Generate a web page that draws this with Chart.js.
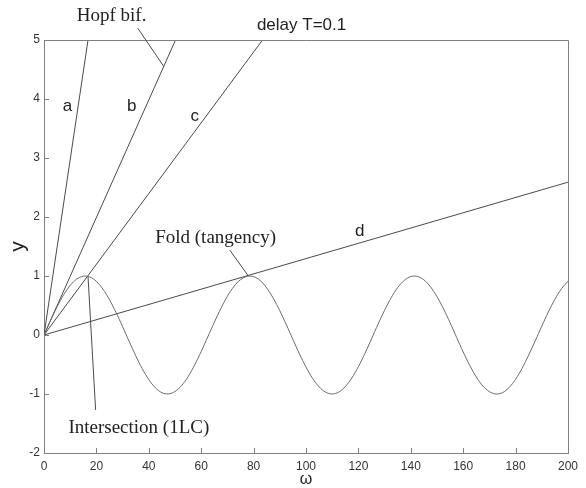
<!DOCTYPE html>
<html>
<head>
<meta charset="utf-8">
<script src="https://cdn.jsdelivr.net/npm/chart.js@4.4.1/dist/chart.umd.min.js"></script>
<style>
html,body{margin:0;padding:0;background:#fff;}
#wrap{width:586px;height:488px;}
</style>
</head>
<body>
<div id="wrap"><canvas id="c" width="586" height="488"></canvas></div>
<script>
// ---- data ----
const omegaValues = [0,2.5,5,7.5,10,12.5,15,17.5,20,22.5,25,27.5,30,32.5,35,37.5,40,42.5,45,47.5,50,52.5,55,57.5,60,62.5,65,67.5,70,72.5,75,77.5,80,82.5,85,87.5,90,92.5,95,97.5,100,102.5,105,107.5,110,112.5,115,117.5,120,122.5,125,127.5,130,132.5,135,137.5,140,142.5,145,147.5,150,152.5,155,157.5,160,162.5,165,167.5,170,172.5,175,177.5,180,182.5,185,187.5,190,192.5,195,197.5,200];
const curveValues = [0,0.247,0.479,0.682,0.841,0.949,0.997,0.984,0.909,0.778,0.598,0.382,0.141,-0.108,-0.351,-0.572,-0.757,-0.895,-0.978,-0.999,-0.959,-0.859,-0.706,-0.508,-0.279,-0.033,0.215,0.450,0.657,0.824,0.938,0.994,0.989,0.925,0.798,0.624,0.412,0.174,-0.075,-0.320,-0.544,-0.735,-0.880,-0.970,-1.000,-0.968,-0.875,-0.729,-0.537,-0.311,-0.066,0.183,0.420,0.632,0.804,0.926,0.991,0.994,0.935,0.818,0.650,0.443,0.207,-0.042,-0.288,-0.516,-0.712,-0.864,-0.961,-1.000,-0.978,-0.891,-0.751,-0.564,-0.338,-0.099,0.150,0.390,0.605,0.784,0.913];

// straight lines from the origin: [x0,y0,x1,y1]
const lineA = [0,0,16.8,5];
const lineB = [0,0,50.2,5];
const lineC = [0,0,83.4,5];
const lineD = [0,0,200,2.59];

const xTicks = [0,20,40,60,80,100,120,140,160,180,200];
const yTicks = [-2,-1,0,1,2,3,4,5];

// text annotations in data units
const sansLabels = [
  {text:'a', x:9.0, y:3.87},
  {text:'b', x:33.5, y:3.87},
  {text:'c', x:57.5, y:3.70},
  {text:'d', x:120.5, y:1.75},
  {text:'delay T=0.1', x:98.3, y:5.25}
];
const serifLabels = [
  {text:'Hopf bif.', x:25.8, y:5.41},
  {text:'Fold (tangency)', x:65.5, y:1.65},
  {text:'Intersection (1LC)', x:36.2, y:-1.58}
];
// pointer lines [x0,y0,x1,y1]
const pointers = [
  [35.8,5.20,45.6,4.56],
  [70.9,1.44,78.0,1.0],
  [16.8,0.99,19.7,-1.27]
];

// ---- build datasets ----
function seg(l){ return [{x:l[0],y:l[1]},{x:l[2],y:l[3]}]; }
const curve = omegaValues.map((x,i)=>({x:x,y:curveValues[i]}));
const lineStyle = {showLine:true, pointRadius:0, borderWidth:1, borderColor:'#4a4a4a', fill:false};

const annotPlugin = {
  id:'annot',
  afterDraw(chart){
    const ctx = chart.ctx, xs = chart.scales.x, ys = chart.scales.y, a = chart.chartArea;
    ctx.save();
    // box top/right
    ctx.strokeStyle = '#7f7f7f'; ctx.lineWidth = 1;
    ctx.beginPath();
    ctx.moveTo(a.left, a.top+0.5); ctx.lineTo(a.right+0.5, a.top+0.5); ctx.lineTo(a.right+0.5, a.bottom);
    ctx.stroke();
    // inner ticks
    ctx.beginPath();
    xTicks.forEach(v=>{ const p = Math.round(xs.getPixelForValue(v))+0.5; ctx.moveTo(p,a.bottom); ctx.lineTo(p,a.bottom-5); });
    yTicks.forEach(v=>{ const p = Math.round(ys.getPixelForValue(v))+0.5; ctx.moveTo(a.left,p); ctx.lineTo(a.left+5,p); });
    ctx.stroke();
    // pointers
    ctx.strokeStyle = '#4a4a4a';
    ctx.beginPath();
    pointers.forEach(p=>{ ctx.moveTo(xs.getPixelForValue(p[0]), ys.getPixelForValue(p[1])); ctx.lineTo(xs.getPixelForValue(p[2]), ys.getPixelForValue(p[3])); });
    ctx.stroke();
    ctx.textAlign = 'center'; ctx.textBaseline = 'middle';
    ctx.fillStyle = '#222';
    ctx.font = '17px "Liberation Sans", Arial, sans-serif';
    sansLabels.forEach(l=> ctx.fillText(l.text, xs.getPixelForValue(l.x), ys.getPixelForValue(l.y)));
    ctx.font = '19px "Liberation Serif", "Times New Roman", serif';
    serifLabels.forEach(l=> ctx.fillText(l.text, xs.getPixelForValue(l.x), ys.getPixelForValue(l.y)));
    ctx.restore();
  }
};

new Chart(document.getElementById('c'), {
  type:'scatter',
  data:{datasets:[
    Object.assign({data:curve, tension:0.3, borderColor:'#6a6a6a'}, {showLine:true, pointRadius:0, borderWidth:1, fill:false}),
    Object.assign({data:seg(lineA)}, lineStyle),
    Object.assign({data:seg(lineB)}, lineStyle),
    Object.assign({data:seg(lineC)}, lineStyle),
    Object.assign({data:seg(lineD)}, lineStyle)
  ]},
  options:{
    responsive:false, animation:false, devicePixelRatio:1,
    layout:{padding:{top:40,right:18,left:0,bottom:0}},
    plugins:{legend:{display:false}, tooltip:{enabled:false}},
    scales:{
      x:{type:'linear', min:0, max:200,
        afterBuildTicks(s){ s.ticks = xTicks.map(v=>({value:v})); },
        afterFit(s){ s.height = 35; },
        grid:{display:false, drawTicks:false},
        border:{display:true, color:'#7f7f7f'},
        ticks:{padding:6, color:'#333', font:{family:'"Liberation Sans", Arial, sans-serif', size:12}, maxRotation:0},
        title:{display:true, text:'ω', color:'#222', font:{family:'"Liberation Sans", Arial, sans-serif', size:16, lineHeight:1}, padding:{top:0,bottom:0}}
      },
      y:{type:'linear', min:-2, max:5,
        afterBuildTicks(s){ s.ticks = yTicks.map(v=>({value:v})); },
        afterFit(s){ s.width = 44; },
        grid:{display:false, drawTicks:false},
        border:{display:true, color:'#7f7f7f'},
        ticks:{padding:4, color:'#333', font:{family:'"Liberation Sans", Arial, sans-serif', size:12}},
        title:{display:true, text:'y', color:'#222', font:{family:'"Liberation Sans", Arial, sans-serif', size:21, lineHeight:1.2}, padding:{top:6,bottom:0}}
      }
    }
  },
  plugins:[annotPlugin]
});
</script>
</body>
</html>
